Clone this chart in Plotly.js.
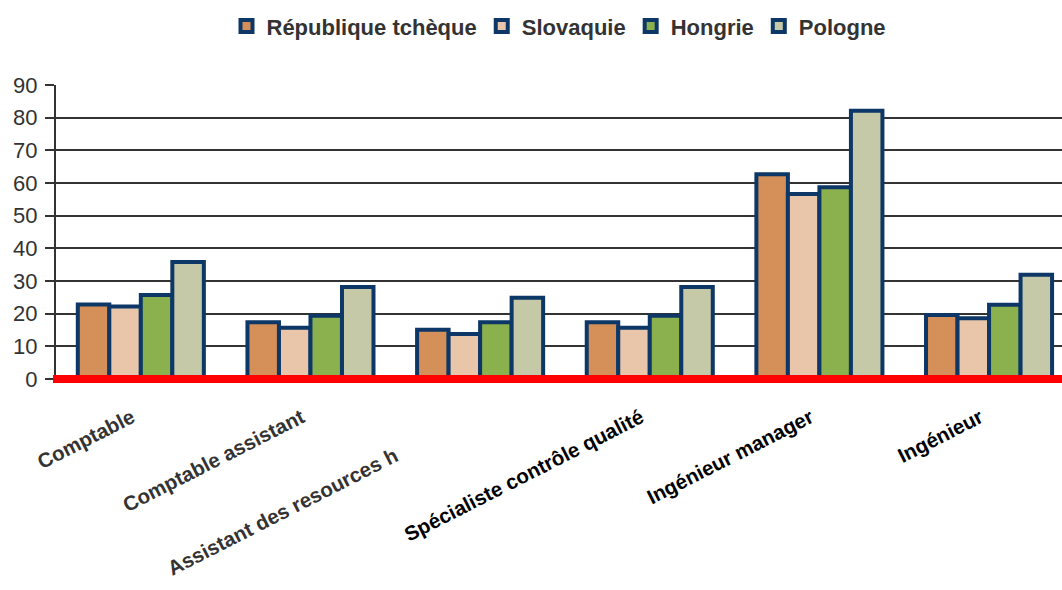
<!DOCTYPE html>
<html>
<head>
<meta charset="utf-8">
<script src="https://cdn.plot.ly/plotly-3.0.1.min.js"></script>
<style>html,body{margin:0;padding:0;background:#fff;}#chart{width:1062px;height:590px;}</style>
</head>
<body>
<div id="chart"></div>
<script>
const categories = ['Comptable', 'Comptable assistant', 'Assistant des resources h', 'Spécialiste contrôle qualité', 'Ingénieur manager', 'Ingénieur'];
const labelColors = ['#333333', '#333333', '#333333', '#000000', '#000000', '#000000'];
const seriesNames = ['République tchèque', 'Slovaquie', 'Hongrie', 'Pologne'];
const czValues = [22.8, 17.4, 15.1, 17.4, 62.7, 19.6];
const skValues = [22.2, 15.7, 13.8, 15.7, 56.6, 18.6];
const huValues = [25.7, 19.4, 17.4, 19.4, 58.7, 22.7];
const plValues = [35.8, 28.2, 24.9, 28.2, 82.1, 31.9];
const seriesColors = ['#D58F58', '#E9C6A9', '#8BB04E', '#C5C9A8'];
const yTicks = [0, 10, 20, 30, 40, 50, 60, 70, 80, 90];

const allValues = [czValues, skValues, huValues, plValues];
const traces = allValues.map((vals, i) => ({
  type: 'bar',
  name: seriesNames[i],
  x: categories,
  y: vals,
  marker: {color: seriesColors[i], line: {color: '#0D3766', width: 4}},
  hoverinfo: 'x+y+name'
}));

const pad = '\u00A0'.repeat(15);
const tickText = categories.map((c, i) => {
  const t = (i === 2) ? c + pad : c;
  return '<span style="color:' + labelColors[i] + '">' + t + '</span>';
});

const layout = {
  width: 1062, height: 590,
  margin: {l: 56, r: 0, t: 85, b: 211},
  paper_bgcolor: '#ffffff', plot_bgcolor: '#ffffff',
  font: {family: 'Liberation Sans, Arial, sans-serif', color: '#333333'},
  barmode: 'group', bargap: 0.257, bargroupgap: 0,
  showlegend: true,
  legend: {
    orientation: 'h', x: 0.5, xanchor: 'center', y: 1.2, yanchor: 'middle',
    font: {size: 22, weight: 'bold', color: '#333333'},
    itemwidth: 30, tracegroupgap: 0
  },
  xaxis: {
    type: 'category',
    range: [-0.5, 5.43],
    tickvals: categories, ticktext: tickText,
    tickangle: -27,
    tickfont: {size: 20.5, weight: 'bold'},
    ticks: '', showline: false, showgrid: false, zeroline: false,
    ticklabelstandoff: 22,
    ticklabelshift: -9,
    fixedrange: true
  },
  yaxis: {
    range: [0, 90],
    tickvals: yTicks,
    tickfont: {size: 22, color: '#333333'},
    ticks: 'outside', ticklen: 9, tickwidth: 2, tickcolor: '#333333',
    showline: true, linecolor: '#333333', linewidth: 2,
    showgrid: true, gridcolor: '#333333', gridwidth: 2,
    zeroline: false,
    ticklabelstandoff: 3,
    fixedrange: true
  },
  shapes: [{
    type: 'line', xref: 'paper', x0: -0.003, x1: 1, yref: 'paper', y0: 0, y1: 0,
    line: {color: '#FF0000', width: 8}, layer: 'above'
  }]
};

Plotly.newPlot('chart', traces, layout, {displayModeBar: false, staticPlot: true});
</script>
</body>
</html>
